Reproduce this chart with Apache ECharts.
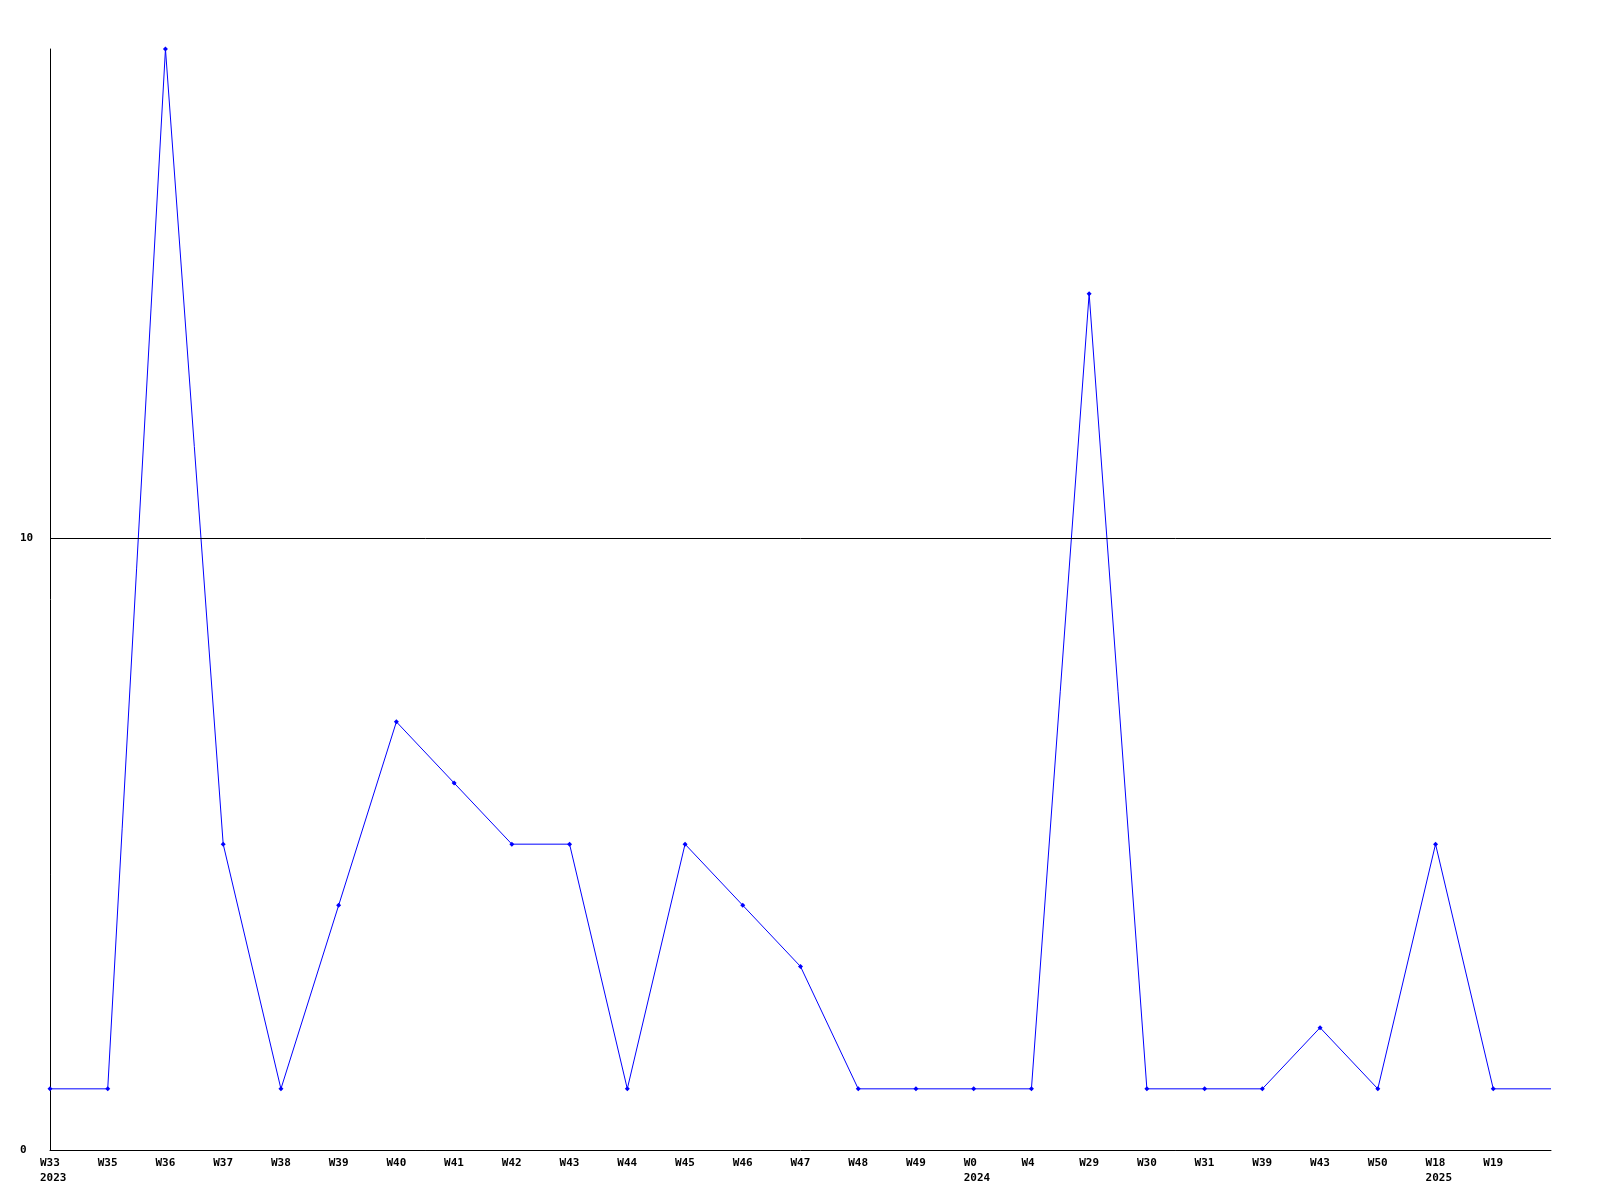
<!DOCTYPE html>
<html>
<head>
<meta charset="utf-8">
<script src="https://cdn.jsdelivr.net/npm/echarts@6/dist/echarts.min.js"></script>
<style>
html,body{margin:0;padding:0;background:#fff;}
#chart{width:1600px;height:1200px;}
</style>
</head>
<body>
<div id="chart"></div>
<script>
const weeks = ["W33","W35","W36","W37","W38","W39","W40","W41","W42","W43","W44","W45","W46","W47","W48","W49","W0","W4","W29","W30","W31","W39","W43","W50","W18","W19",""];
const years = ["2023","","","","","","","","","","","","","","","","2024","","","","","","","","2025","",""];
const values = [1,1,18,5,1,4,7,6,5,5,1,5,4,3,1,1,1,1,14,1,1,1,2,1,5,1,1];
const yTicks = [0, 10];
const yMax = 18;

const categories = weeks.map((w, i) => i + ":" + w);
const seriesData = values.map((v, i) => i === values.length - 1 ? {value: v, symbol: 'none'} : v);

const chart = echarts.init(document.getElementById('chart'), null, {renderer: 'canvas'});
chart.setOption({
  animation: false,
  backgroundColor: '#ffffff',
  grid: {left: 50, right: 49, top: 49, bottom: 50, containLabel: false},
  xAxis: {
    type: 'category',
    data: categories,
    boundaryGap: false,
    axisLine: {show: true, lineStyle: {color: '#000', width: 1}},
    axisTick: {show: false},
    splitLine: {show: false},
    axisLabel: {
      interval: 0,
      align: 'left',
      padding: [0, 0, 0, -10],
      margin: 6,
      lineHeight: 15,
      color: '#000',
      fontFamily: 'DejaVu Sans Mono',
      fontWeight: 'bold',
      fontSize: 11,
      formatter: (val, idx) => weeks[idx] + (years[idx] ? '\n' + years[idx] : '')
    }
  },
  yAxis: {
    type: 'value',
    min: 0,
    max: yMax,
    interval: 10,
    axisLine: {show: true, lineStyle: {color: '#000', width: 1}},
    axisTick: {show: false},
    splitLine: {show: false},
    axisLabel: {
      align: 'left',
      margin: 30,
      color: '#000',
      fontFamily: 'DejaVu Sans Mono',
      fontWeight: 'bold',
      fontSize: 11,
      showMaxLabel: false,
      formatter: v => yTicks.indexOf(v) >= 0 ? String(v) : ''
    }
  },
  series: [{
    type: 'line',
    data: seriesData,
    symbol: 'diamond',
    symbolSize: 5,
    showSymbol: true,
    lineStyle: {color: '#0000ff', width: 1},
    itemStyle: {color: '#0000ff'},
    markLine: {
      silent: true,
      symbol: ['none', 'none'],
      label: {show: false},
      lineStyle: {color: '#000', width: 1, type: 'solid'},
      data: yTicks.filter(t => t > 0).map(t => ({yAxis: t}))
    }
  }]
});
</script>
</body>
</html>
